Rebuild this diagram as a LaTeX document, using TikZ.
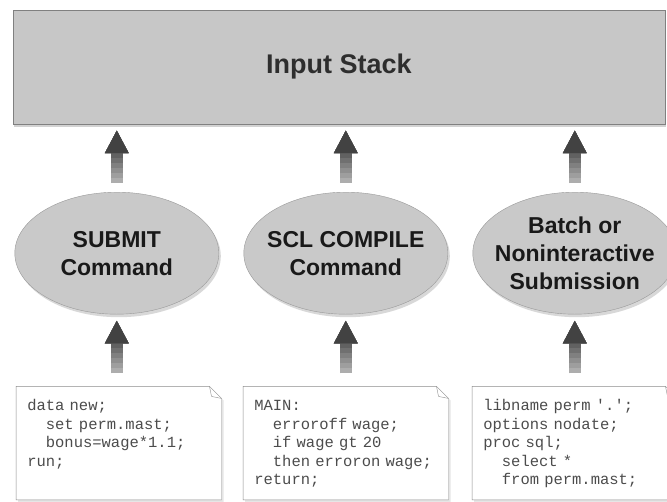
\documentclass[tikz,border=0pt]{standalone}
\usepackage{fontspec}
\setmainfont{Liberation Sans}
\setmonofont{Liberation Mono}
\usetikzlibrary{shapes.geometric, arrows.meta, shadows}
\tikzstyle{stackbox} = [draw=black!50, fill=black!22, minimum width=652pt, minimum height=114pt, text=black!82, font=\bfseries\fontsize{27}{32}\selectfont, drop shadow={shadow xshift=1pt, shadow yshift=-3pt, opacity=0.35}]
\tikzstyle{source} = [ellipse, draw=black!40, fill=black!21, minimum width=204pt, minimum height=122pt, inner xsep=-14pt, inner ysep=-8pt, align=center, text=black!90, font=\bfseries\fontsize{23}{28}\selectfont, drop shadow={shadow xshift=2pt, shadow yshift=-3pt, opacity=0.3}]
\tikzstyle{listing} = [anchor=north, text width=183pt, inner sep=11pt, text height=13pt, text depth=78pt, align=left, text=black!70, font=\ttfamily\fontsize{15.5}{18.5}\selectfont]
\tikzstyle{flow} = [line width=12pt, -{Triangle[width=22pt,length=23pt]}]
\def\gap{229}
\newcommand\ind{\hspace*{1.2em}}
\pgfdeclarelayer{background}
\pgfsetlayers{background,main}

\begin{document}
\begin{tikzpicture}[x=1pt, y=1pt]
    \useasboundingbox (0,0) rectangle (667,-501);
    \clip (0,0) rectangle (667,-501);

    \node (stack) [stackbox] at (339,-67) {Input Stack};

    \path (stack.south west)+(104,-129) node (src1) [source] {SUBMIT\\Command};
    \path (src1.center)+(\gap,0) node (src2) [source] {SCL COMPILE\\Command};
    \path (src2.center)+(\gap,0) node (src3) [source] {Batch or\\Noninteractive\\Submission};

    \path (src1.south)+(2,-72) node (list1) [listing] {data new;\\\ind set perm.mast;\\\ind bonus=wage*1.1;\\run;};
    \path (src2.south)+(0,-72) node (list2) [listing] {MAIN:\\\ind erroroff wage;\\\ind if wage gt 20\\\ind then erroron wage;\\return;};
    \path (src3.south)+(0,-72) node (list3) [listing] {libname perm '.';\\options nodate;\\proc sql;\\\ind select *\\\ind from perm.mast;};

    \begin{pgfonlayer}{background}
        \fill[white] (0,0) rectangle (667,-501);
        \foreach \i in {1,2,3}
        {
            \path[draw=black!45, fill=white, drop shadow={shadow xshift=2pt, shadow yshift=-2pt, opacity=0.2}]
                (list\i.south west) -- (list\i.north west) -- ([xshift=-12pt]list\i.north east)
                -- ([yshift=-12pt]list\i.north east) -- (list\i.south east) -- cycle;
            \path[draw=black!45] ([xshift=-12pt]list\i.north east) -- ([xshift=-10pt,yshift=-10pt]list\i.north east)
                -- ([yshift=-12pt]list\i.north east);
        }
    \end{pgfonlayer}

    % darker towards the tip
    \foreach \i in {1,2,3}
    {
        \foreach \s/\c in {0/32,5/38,10/44,15/50,20/56,25/62,30/68,35/74}
        {
            \path [flow, draw=black!\c, shorten <=9pt+\s pt, shorten >=6pt] (src\i.north) -- (stack.south -| src\i.north);
            \path [flow, draw=black!\c, shorten <=13pt+\s pt, shorten >=6pt] (list\i.north -| src\i.south) -- (src\i.south);
        }
    }
\end{tikzpicture}
\end{document}
